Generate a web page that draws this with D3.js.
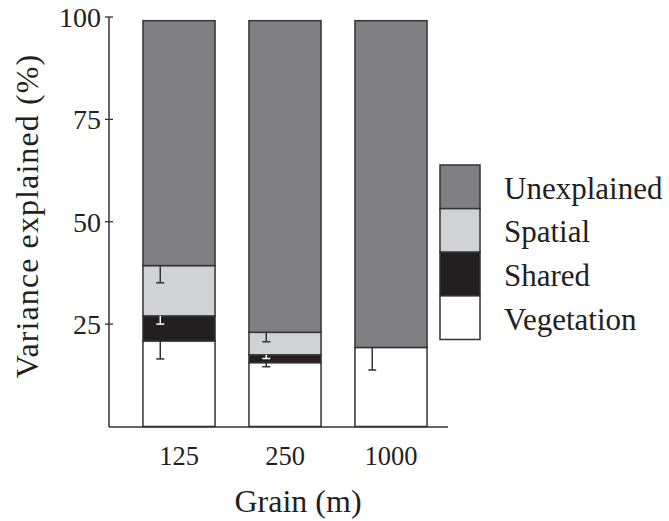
<!DOCTYPE html>
<html>
<head>
<meta charset="utf-8">
<script src="https://cdn.jsdelivr.net/npm/d3@7"></script>
<style>
  body { margin: 0; background: #fff; }
  text { font-family: "Liberation Serif", "Times New Roman", serif; fill: #231f20; }
</style>
</head>
<body>
<div id="chart"></div>
<script>
// Data
const grains = ["125", "250", "1000"];
const vegetation = [20.9, 15.6, 19.3];
const shared = [6.1, 1.9, 0];
const spatial = [12.3, 5.5, 0];
const unexplained = [59.8, 76.1, 79.8];
// error bars (lower end, in % units)
const vegetationErr = [4.4, 1.0, 5.5];
const sharedErr = [2.0, 0.9, 0];
const spatialErr = [4.2, 2.3, 0];
const yTicks = [25, 50, 75, 100];

const width = 669, height = 521;

const svg = d3.select('#chart')
  .append("svg")
  .attr("width", width)
  .attr("height", height);

// Scales
const x = d3.scaleBand()
  .domain(grains)
  .range([126, 444])
  .paddingInner(0.32)
  .paddingOuter(0.16);

const y = d3.scaleLinear()
  .domain([0, 100])
  .range([426.5, 17]);

const layers = [
  { key: "Vegetation", values: vegetation, err: vegetationErr, fill: "#ffffff", errColor: "#333" },
  { key: "Shared", values: shared, err: sharedErr, fill: "#231f20", errColor: "#ffffff" },
  { key: "Spatial", values: spatial, err: spatialErr, fill: "#d1d2d4", errColor: "#333" },
  { key: "Unexplained", values: unexplained, err: null, fill: "#808084", errColor: "#333" }
];

// stack the layers
const rows = grains.map((g, i) => {
  const r = { grain: g };
  layers.forEach(l => r[l.key] = l.values[i]);
  return r;
});
const stacked = d3.stack().keys(layers.map(l => l.key))(rows);

// Bars
const barsGroup = svg.append('g')
  .attr("class", "bars")
  .attr("stroke", "#333")
  .attr("stroke-width", 1.5);

stacked.forEach((s, li) => {
  barsGroup.append('g')
    .attr("fill", layers[li].fill)
    .selectAll('rect')
    .data(s.filter(d => d[1] - d[0] > 0))
    .join('rect')
      .attr("x", d => x(d.data.grain))
      .attr("width", x.bandwidth())
      .attr("y", d => y(d[1]))
      .attr("height", d => y(d[0]) - y(d[1]));
});

// Error bars (drawn down from the top of each segment)
const errGroup = svg.append('g').attr("class", "errors").attr("stroke-width", 1.5);
stacked.forEach((s, li) => {
  const l = layers[li];
  if (!l.err) return;
  s.forEach((d, i) => {
    if (l.err[i] <= 0) return;
    const cx = x(d.data.grain) + x.bandwidth() * 0.24;
    const top = y(d[1]);
    const bot = y(d[1] - l.err[i]);
    errGroup.append('line')
      .attr("x1", cx).attr("x2", cx)
      .attr("y1", top).attr("y2", bot)
      .attr("stroke", l.errColor);
    errGroup.append('line')
      .attr("x1", cx - 4).attr("x2", cx + 4)
      .attr("y1", bot).attr("y2", bot)
      .attr("stroke", l.errColor);
  });
});

// Y axis
const yAxis = svg.append('g').attr("class", "y-axis");
yAxis.append('line')
  .attr("x1", 109).attr("x2", 109)
  .attr("y1", y(100)).attr("y2", 427)
  .attr("stroke", "#333").attr("stroke-width", 1.5);
yAxis.selectAll('.tick')
  .data(yTicks)
  .join('line')
    .attr("x1", 105).attr("x2", 113)
    .attr("y1", d => y(d)).attr("y2", d => y(d))
    .attr("stroke", "#333").attr("stroke-width", 1.3);
yAxis.selectAll('text')
  .data(yTicks)
  .join('text')
    .attr("x", 101)
    .attr("y", d => y(d))
    .attr("dy", "0.35em")
    .attr("text-anchor", "end")
    .attr("font-size", 28)
    .text(d => d);

// X axis
svg.append('line')
  .attr("x1", 109).attr("x2", 448)
  .attr("y1", 427).attr("y2", 427)
  .attr("stroke", "#333").attr("stroke-width", 1.5);
svg.append('g')
  .selectAll('text')
  .data(grains)
  .join('text')
    .attr("x", d => x(d) + x.bandwidth() / 2)
    .attr("y", 465)
    .attr("text-anchor", "middle")
    .attr("font-size", 26.5)
    .text(d => d);

// Axis titles
svg.append('text')
  .attr("x", 298)
  .attr("y", 512)
  .attr("text-anchor", "middle")
  .attr("font-size", 32)
  .text("Grain (m)");

svg.append('text')
  .attr("transform", "translate(38,216) rotate(-90)")
  .attr("text-anchor", "middle")
  .attr("font-size", 32)
  .attr("letter-spacing", 1.1)
  .text("Variance explained (%)");

// Legend
const legend = svg.append('g').attr("class", "legend");
const legendItems = layers.slice().reverse();
const legY = d3.scaleBand()
  .domain(legendItems.map(l => l.key))
  .range([165, 339.5]);

legend.selectAll('rect')
  .data(legendItems)
  .join('rect')
    .attr("x", 440)
    .attr("y", d => legY(d.key))
    .attr("width", 40)
    .attr("height", legY.bandwidth())
    .attr("fill", d => d.fill)
    .attr("stroke", "#333")
    .attr("stroke-width", 1.5);

legend.selectAll('text')
  .data(legendItems)
  .join('text')
    .attr("x", 504)
    .attr("y", d => legY(d.key) + legY.bandwidth() / 2 + 12)
    .attr("font-size", 31)
    .text(d => d.key);
</script>
</body>
</html>
